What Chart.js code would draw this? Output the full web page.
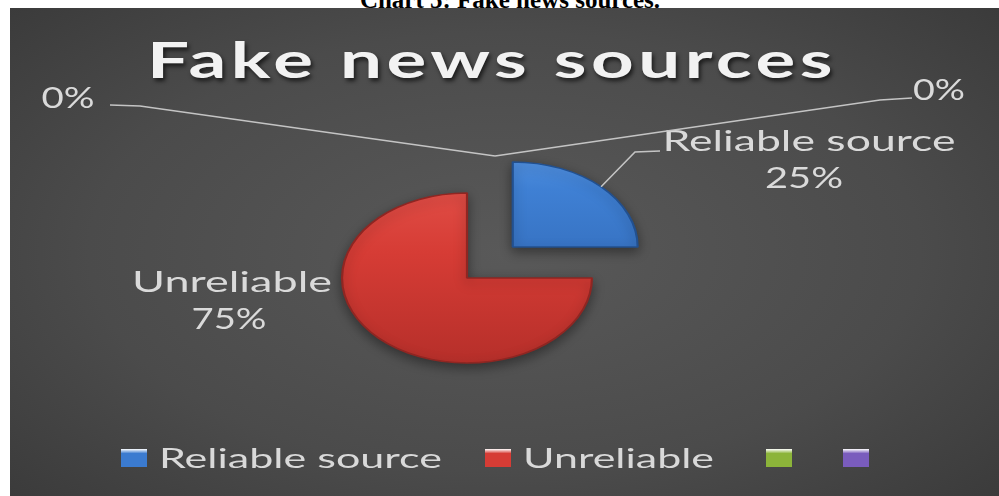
<!DOCTYPE html>
<html lang="en">
<head>
  <meta charset="UTF-8" />
  <title>Chart 5: Fake news sources</title>
  <meta name="viewport" content="width=device-width, initial-scale=1.0" />
  <script src="https://cdn.jsdelivr.net/npm/chart.js"></script>
  <style>
    body {
      margin: 0;
      width: 999px;
      height: 496px;
      overflow: hidden;
      position: relative;
      background: #fff;
    }
    #caption {
      position: absolute;
      top: -12px;
      left: 0;
      width: 1020px;
      text-align: center;
      font: bold 25px 'Liberation Serif', serif;
      line-height: 24px;
      color: #000;
    }
    #panel {
      position: absolute;
      left: 10px;
      top: 8px;
      width: 989px;
      height: 488px;
      background: radial-gradient(ellipse 70% 75% at 50% 50%, #595959 0%, #4b4b4b 60%, #3a3a3a 100%);
    }
    #chartBox {
      position: absolute;
      left: 0;
      top: 0;
      width: 999px;
      height: 496px;
    }
  </style>
</head>
<body>
  <div id="caption">Chart 5: Fake news sources.</div>
  <div id="panel"></div>
  <div id="chartBox"><canvas id="pieChart"></canvas></div>

  <script>
    // data
    const chartTitle = 'Fake news sources';
    const categories = ['Reliable source', 'Unreliable', '', ''];
    const shares = [25, 75, 0, 0];
    const sliceColors = ['#3b7bd0', '#d63c35', '#8cb43a', '#7a5cbd'];

    // layout (the original picture is stretched sideways, so everything is too)
    const SX = 1.47;
    const PIE_R = 85;
    const EXPLODE = [176, 0, 0, 0];   // chart.js moves a slice by offset / 4
    const labelSpots = [
      { name: [809, 140, 293], pct: [804, 177, 78], leader: [[635, 152], [660, 151]], shift: [0, 0] },
      { name: [232, 281, 200], pct: [229, 318, 75], leader: [], shift: [0, 0] },
      { name: null, pct: [68, 97, 53], leader: [[140, 106], [110, 105]], shift: [28, -37] },
      { name: null, pct: [939, 89, 52], leader: [[880, 100], [912, 98]], shift: [28, -37] }
    ];
    const legendX = [121, 485, 766, 843];
    const legendTextW = [283, 191, 0, 0];
    const legendY = 458;

    const total = shares.reduce((a, b) => a + b, 0);
    const pctText = shares.map(v => Math.round(v / total * 100) + '%');

    function drawStretched(ctx, text, x, cy, width, font, align, spacing) {
      ctx.save();
      ctx.font = font;
      ctx.letterSpacing = (spacing || 0) + 'px';
      const w = ctx.measureText(text).width;
      const cap = ctx.measureText('H').actualBoundingBoxAscent;
      ctx.translate(x, cy + cap / 2);
      ctx.scale(width / w, 1);
      ctx.textAlign = align || 'center';
      ctx.textBaseline = 'alphabetic';
      ctx.fillText(text, 0, 0);
      ctx.restore();
    }

    function sliceFill(c) {
      const chart = c.chart;
      const i = c.dataIndex;
      const area = chart.chartArea;
      if (!area || !isFinite(area.top)) return sliceColors[i];
      const cy = (area.top + area.bottom) / 2;
      const g = chart.ctx.createLinearGradient(0, cy - PIE_R - 50, 0, cy + PIE_R);
      if (i === 0) {
        g.addColorStop(0, '#6aa6ee');
        g.addColorStop(0.35, '#3f80d4');
        g.addColorStop(1, '#2d62ad');
      } else if (i === 1) {
        g.addColorStop(0, '#e85a52');
        g.addColorStop(0.5, '#d63c35');
        g.addColorStop(1, '#b62f2a');
      } else {
        g.addColorStop(0, sliceColors[i]);
        g.addColorStop(1, sliceColors[i]);
      }
      return g;
    }

    // squash the round pie into the stretched ellipse of the picture
    const stretchPie = {
      id: 'stretchPie',
      beforeDatasetsDraw(chart) {
        const ctx = chart.ctx;
        const c = chart.getDatasetMeta(0).data[0];
        ctx.save();
        ctx.translate(c.x, c.y);
        ctx.scale(SX, 1);
        ctx.translate(-c.x, -c.y);
        ctx.shadowColor = 'rgba(0,0,0,0.4)';
        ctx.shadowBlur = 12;
        ctx.shadowOffsetY = 4;
      },
      afterDatasetsDraw(chart) {
        chart.ctx.restore();
      }
    };

    const pieText = {
      id: 'pieText',
      afterDraw(chart) {
        const ctx = chart.ctx;
        const arcs = chart.getDatasetMeta(0).data;

        // title
        ctx.save();
        ctx.fillStyle = '#f2f2f2';
        ctx.shadowColor = 'rgba(0,0,0,0.65)';
        ctx.shadowBlur = 4;
        ctx.shadowOffsetX = 2;
        ctx.shadowOffsetY = 3;
        drawStretched(ctx, chartTitle, 492, 60, 690, 'bold 50px Lato', 'center', 3);
        ctx.restore();

        // data labels with leader lines
        ctx.save();
        ctx.strokeStyle = '#c4c4c4';
        ctx.lineWidth = 1.6;
        ctx.fillStyle = '#dadada';
        arcs.forEach((arc, i) => {
          const spot = labelSpots[i];
          const p = arc.getProps(['x', 'y', 'startAngle', 'endAngle', 'outerRadius'], true);
          const mid = (p.startAngle + p.endAngle) / 2;
          const r = p.outerRadius + EXPLODE[i] / 4;
          const ax = p.x + Math.cos(mid) * r * SX + spot.shift[0];
          const ay = p.y + Math.sin(mid) * r + spot.shift[1];
          if (spot.leader.length) {
            ctx.beginPath();
            ctx.moveTo(ax, ay);
            spot.leader.forEach(pt => ctx.lineTo(pt[0], pt[1]));
            ctx.stroke();
          }
          if (spot.name && categories[i]) {
            drawStretched(ctx, categories[i], spot.name[0], spot.name[1], spot.name[2], '28px Lato');
          }
          drawStretched(ctx, pctText[i], spot.pct[0], spot.pct[1], spot.pct[2], '28px Lato');
        });
        ctx.restore();

        // legend
        ctx.save();
        categories.forEach((name, i) => {
          const x = legendX[i];
          const g = ctx.createLinearGradient(0, legendY - 9, 0, legendY + 9);
          g.addColorStop(0, '#ffffff');
          g.addColorStop(0.25, sliceColors[i]);
          g.addColorStop(1, sliceColors[i]);
          ctx.fillStyle = g;
          ctx.fillRect(x, legendY - 9, 26, 18);
          if (name) {
            ctx.fillStyle = '#d9d9d9';
            drawStretched(ctx, name, x + 38, legendY, legendTextW[i], '27px Lato', 'left');
          }
        });
        ctx.restore();
      }
    };

    new Chart(document.getElementById('pieChart'), {
      type: 'pie',
      data: {
        labels: categories,
        datasets: [{
          data: shares,
          backgroundColor: sliceFill,
          borderColor: ['#22508f', '#8f2622', 'rgba(0,0,0,0)', 'rgba(0,0,0,0)'],
          borderWidth: [1.5, 1.5, 0, 0],
          offset: EXPLODE,
          radius: PIE_R
        }]
      },
      options: {
        responsive: true,
        maintainAspectRatio: false,
        animation: false,
        events: [],
        radius: PIE_R,
        layout: { padding: { left: 0, right: 65, top: 60, bottom: 0 } },
        plugins: {
          legend: { display: false },
          title: { display: false },
          tooltip: { enabled: false }
        }
      },
      plugins: [stretchPie, pieText]
    });
  </script>
</body>
</html>
